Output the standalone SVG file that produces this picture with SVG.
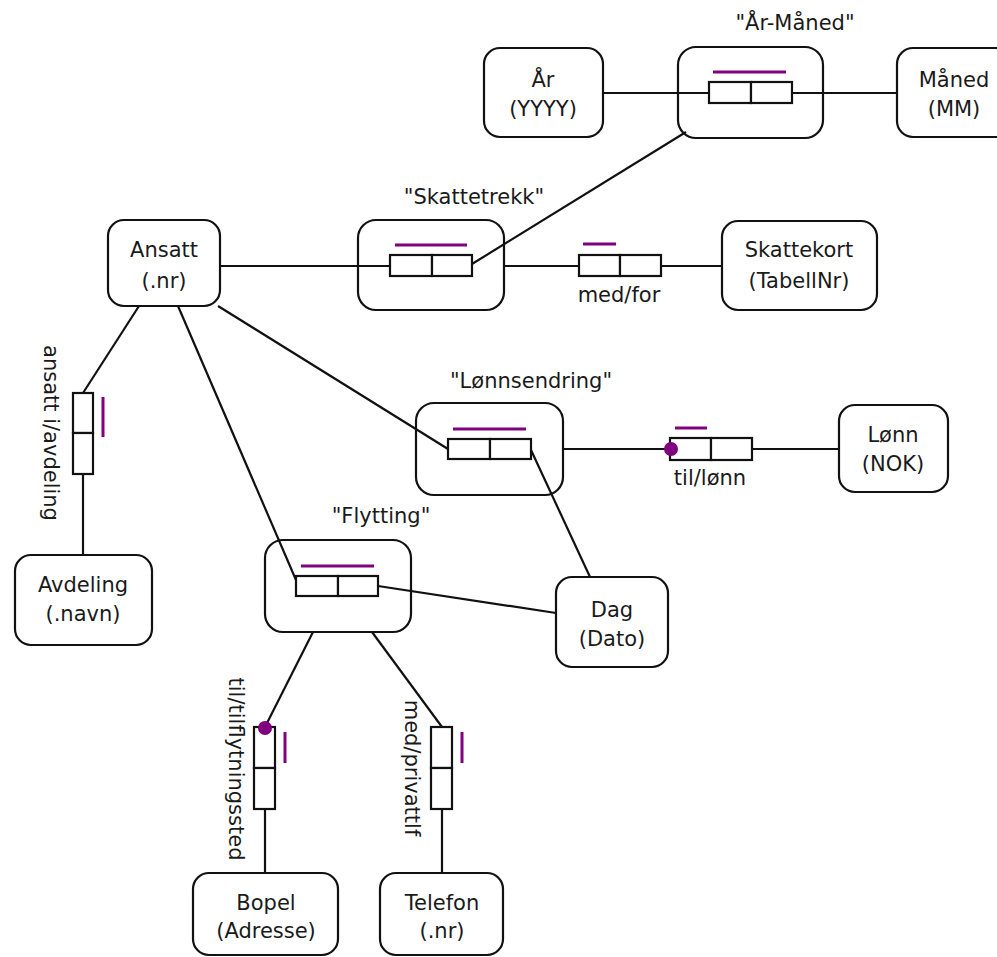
<svg xmlns="http://www.w3.org/2000/svg" width="997" height="957" viewBox="0 0 997 957">
<style>
text{font-family:"DejaVu Sans","Liberation Sans",sans-serif;font-size:21px;fill:#1a1a1a;text-anchor:middle}
.ent{fill:#fff;stroke:#111;stroke-width:2.2}
.obj{fill:none;stroke:#111;stroke-width:2.2}
.role{fill:#fff;stroke:#111;stroke-width:2.2}
.uc{stroke:#800080;stroke-width:3;fill:none}
.dot{fill:#800080}
#connectors line{stroke:#111;stroke-width:2.2}
</style>
<rect width="997" height="957" fill="#fff"/>
<g id="connectors">
<line x1="603" y1="93" x2="709" y2="93"/>
<line x1="792" y1="93" x2="897" y2="93"/>
<line x1="472" y1="264" x2="686" y2="132"/>
<line x1="220" y1="266" x2="390" y2="266"/>
<line x1="504" y1="266" x2="579" y2="266"/>
<line x1="661" y1="266" x2="722" y2="266"/>
<line x1="139" y1="306" x2="83" y2="393"/>
<line x1="83" y1="474" x2="83" y2="555"/>
<line x1="178" y1="306" x2="296" y2="580"/>
<line x1="218" y1="306" x2="448" y2="449"/>
<line x1="563" y1="449" x2="670" y2="449"/>
<line x1="752" y1="449" x2="839" y2="449"/>
<line x1="531" y1="450" x2="590" y2="577"/>
<line x1="378" y1="586" x2="556" y2="613"/>
<line x1="313" y1="632" x2="265" y2="727"/>
<line x1="372" y1="632" x2="442" y2="727"/>
<line x1="265" y1="809" x2="265" y2="873"/>
<line x1="442" y1="809" x2="442" y2="873"/>
</g>
<g id="aar">
<rect class="ent" x="484" y="48" width="119" height="89" rx="16"/>
<text x="543" y="87">År</text>
<text x="543" y="116">(YYYY)</text>
</g>
<g id="maaned">
<rect class="ent" x="897" y="48" width="115" height="89" rx="16"/>
<text x="954" y="87">Måned</text>
<text x="954" y="116">(MM)</text>
</g>
<g id="aar-maaned">
<rect class="obj" x="678" y="47" width="145" height="91" rx="18"/>
<text x="795" y="30">"År-Måned"</text>
<rect class="role" x="709" y="82" width="42" height="21"/>
<rect class="role" x="751" y="82" width="41" height="21"/>
<line class="uc" x1="713" y1="72" x2="786" y2="72"/>
</g>
<g id="ansatt">
<rect class="ent" x="108" y="220" width="112" height="86" rx="16"/>
<text x="164" y="257">Ansatt</text>
<text x="164" y="288">(.nr)</text>
</g>
<g id="skattetrekk">
<rect class="obj" x="358" y="220" width="146" height="90" rx="18"/>
<text x="474" y="204">"Skattetrekk"</text>
<rect class="role" x="390" y="255" width="42" height="21"/>
<rect class="role" x="432" y="255" width="40" height="21"/>
<line class="uc" x1="395" y1="245" x2="467" y2="245"/>
</g>
<g id="med-for">
<rect class="role" x="579" y="255" width="41" height="21"/>
<rect class="role" x="620" y="255" width="41" height="21"/>
<line class="uc" x1="583" y1="244" x2="616" y2="244"/>
<text x="619" y="302">med/for</text>
</g>
<g id="skattekort">
<rect class="ent" x="722" y="221" width="155" height="89" rx="16"/>
<text x="799" y="257">Skattekort</text>
<text x="799" y="288">(TabellNr)</text>
</g>
<g id="ansatt-i-avdeling">
<rect class="role" x="73" y="393" width="20" height="40"/>
<rect class="role" x="73" y="433" width="20" height="41"/>
<line class="uc" x1="103" y1="397" x2="103" y2="437"/>
<text transform="translate(44,433) rotate(90)">ansatt i/avdeling</text>
</g>
<g id="avdeling">
<rect class="ent" x="15" y="555" width="137" height="90" rx="16"/>
<text x="83" y="592">Avdeling</text>
<text x="83" y="621">(.navn)</text>
</g>
<g id="loennsendring">
<rect class="obj" x="416" y="403" width="147" height="92" rx="18"/>
<text x="531" y="388">"Lønnsendring"</text>
<rect class="role" x="448" y="439" width="42" height="20"/>
<rect class="role" x="490" y="439" width="41" height="20"/>
<line class="uc" x1="453" y1="429" x2="526" y2="429"/>
</g>
<g id="til-loenn">
<rect class="role" x="670" y="438" width="41" height="22"/>
<rect class="role" x="711" y="438" width="41" height="22"/>
<line class="uc" x1="675" y1="428" x2="707" y2="428"/>
<circle class="dot" cx="671" cy="449" r="7"/>
<text x="710" y="485">til/lønn</text>
</g>
<g id="loenn">
<rect class="ent" x="839" y="405" width="109" height="87" rx="16"/>
<text x="893" y="442">Lønn</text>
<text x="893" y="471">(NOK)</text>
</g>
<g id="flytting">
<rect class="obj" x="265" y="540" width="146" height="92" rx="18"/>
<text x="381" y="523">"Flytting"</text>
<rect class="role" x="296" y="576" width="42" height="20"/>
<rect class="role" x="338" y="576" width="40" height="20"/>
<line class="uc" x1="301" y1="566" x2="374" y2="566"/>
</g>
<g id="dag">
<rect class="ent" x="556" y="577" width="112" height="90" rx="16"/>
<text x="612" y="617">Dag</text>
<text x="612" y="646">(Dato)</text>
</g>
<g id="til-tilflytningssted">
<rect class="role" x="254" y="727" width="21" height="41"/>
<rect class="role" x="254" y="768" width="21" height="41"/>
<line class="uc" x1="285" y1="732" x2="285" y2="763"/>
<circle class="dot" cx="265" cy="728" r="7"/>
<text transform="translate(229,769) rotate(90)">til/tilflytningssted</text>
</g>
<g id="med-privattlf">
<rect class="role" x="431" y="727" width="21" height="41"/>
<rect class="role" x="431" y="768" width="21" height="41"/>
<line class="uc" x1="462" y1="732" x2="462" y2="763"/>
<text transform="translate(405,768) rotate(90)">med/privattlf</text>
</g>
<g id="bopel">
<rect class="ent" x="193" y="873" width="145" height="82" rx="16"/>
<text x="266" y="910">Bopel</text>
<text x="266" y="938">(Adresse)</text>
</g>
<g id="telefon">
<rect class="ent" x="380" y="873" width="123" height="82" rx="16"/>
<text x="442" y="910">Telefon</text>
<text x="442" y="938">(.nr)</text>
</g>
</svg>
